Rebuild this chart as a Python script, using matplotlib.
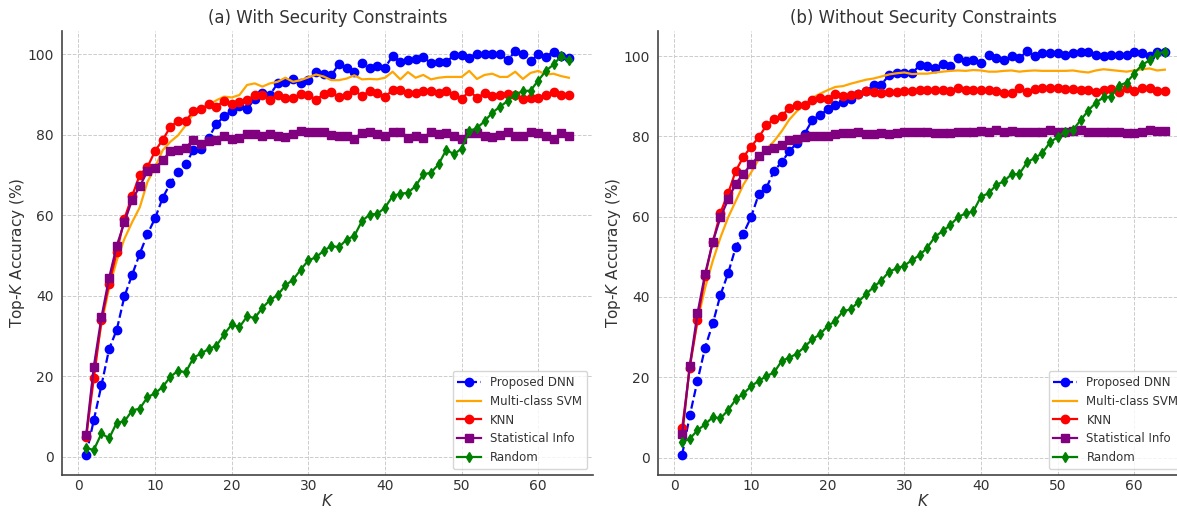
import numpy as np
import matplotlib
matplotlib.use("Agg")
import matplotlib.pyplot as plt

K = np.arange(1, 65)

# (a) with security constraints
dnn_a = [0.5, 9.1, 17.8, 26.8, 31.6, 39.9, 45.2, 50.5, 55.3, 59.3, 64.4, 68.0, 70.9, 72.7, 76.3, 76.6,
         79.3, 82.7, 84.6, 86.0, 87.1, 86.4, 89.0, 90.5, 90.0, 92.8, 93.2, 93.9, 92.8, 93.7, 95.6, 95.2,
         94.8, 97.6, 96.7, 95.7, 97.8, 96.5, 97.2, 96.7, 99.6, 98.1, 98.5, 98.9, 99.4, 97.8, 98.1, 98.1,
         99.8, 99.8, 99.2, 100.2, 100.0, 100.2, 100.2, 98.5, 100.8, 100.2, 98.3, 100.0, 99.4, 100.7, 99.6, 99.2]
svm_a = [4.0, 22.0, 33.0, 42.0, 48.8, 54.2, 58.3, 62.0, 68.3, 72.0, 76.2, 78.3, 79.9, 82.4, 85.3, 86.1,
         87.4, 88.6, 89.5, 89.3, 89.9, 92.4, 92.8, 92.0, 92.8, 93.2, 94.2, 93.2, 93.6, 94.3, 95.0, 94.5,
         93.6, 93.6, 94.0, 94.8, 93.8, 93.9, 93.8, 94.2, 95.7, 93.8, 95.6, 94.2, 94.9, 93.8, 94.2, 94.4,
         94.4, 94.4, 95.9, 93.9, 94.9, 95.2, 94.4, 94.4, 95.7, 93.9, 95.4, 95.9, 95.0, 95.2, 94.6, 94.2]
knn_a = [5.0, 19.5, 33.9, 43.0, 50.9, 59.2, 64.8, 70.1, 72.0, 76.0, 78.8, 82.0, 83.5, 83.5, 85.9, 86.4,
         87.6, 87.0, 88.5, 87.6, 88.2, 88.6, 89.9, 90.0, 88.6, 90.0, 89.2, 89.2, 90.1, 90.0, 88.7, 90.1,
         90.6, 89.5, 90.0, 91.1, 89.6, 91.0, 90.5, 89.5, 91.1, 91.1, 90.3, 90.3, 90.9, 90.9, 90.3, 91.0,
         90.0, 88.8, 91.0, 89.2, 90.3, 89.6, 89.8, 90.2, 89.8, 89.0, 89.2, 89.2, 89.8, 90.7, 89.9, 89.8]
stat_a = [5.4, 22.4, 34.7, 44.5, 52.5, 58.3, 63.9, 67.2, 71.0, 71.8, 73.7, 76.0, 76.3, 76.8, 78.8, 77.8,
          78.4, 78.8, 79.8, 78.9, 79.3, 80.1, 80.2, 79.8, 80.1, 79.8, 79.5, 80.3, 80.9, 80.8, 80.8, 80.8,
          80.0, 79.8, 79.6, 79.1, 80.5, 80.7, 80.1, 79.8, 80.7, 80.7, 79.3, 79.8, 79.3, 80.7, 80.1, 80.5,
          79.6, 79.1, 80.5, 80.5, 79.8, 79.4, 79.9, 80.7, 79.6, 79.8, 80.7, 80.5, 79.6, 79.1, 80.5, 79.8]
rand_a = [2.2, 1.7, 5.8, 4.6, 8.5, 8.8, 11.5, 12.0, 14.8, 15.8, 17.4, 19.9, 21.4, 21.0, 24.6, 25.7,
          26.8, 27.6, 30.4, 32.9, 32.2, 34.9, 34.5, 37.0, 39.0, 40.2, 42.6, 44.0, 46.5, 48.8, 49.6, 51.2,
          52.4, 52.1, 54.0, 54.9, 58.6, 60.2, 60.4, 61.9, 64.8, 65.4, 65.6, 67.3, 70.2, 70.6, 72.7, 76.3,
          75.2, 76.6, 80.9, 81.7, 83.4, 85.5, 87.0, 88.4, 90.0, 90.9, 91.0, 93.5, 95.9, 97.5, 99.6, 98.5]

# (b) without security constraints
dnn_b = [0.7, 10.5, 19.1, 27.4, 33.4, 40.5, 45.9, 52.4, 55.8, 59.9, 65.6, 67.2, 71.4, 73.6, 76.3, 78.4,
         80.7, 84.1, 85.3, 86.7, 87.8, 88.6, 89.4, 90.5, 91.3, 92.7, 92.9, 95.2, 95.7, 95.8, 95.7, 97.7,
         97.5, 96.9, 97.9, 97.5, 99.6, 98.8, 98.9, 98.3, 100.2, 99.6, 98.9, 100.0, 99.4, 101.2, 100.0, 100.7,
         100.7, 100.8, 100.2, 100.7, 101.0, 101.0, 100.2, 100.0, 100.2, 100.2, 100.2, 101.0, 100.7, 100.0, 101.1, 101.1]
svm_b = [4.5, 23.2, 34.0, 42.3, 49.0, 54.8, 59.8, 63.9, 68.0, 71.0, 74.3, 76.8, 78.8, 81.3, 84.2, 86.3,
         87.8, 89.6, 90.6, 91.5, 92.3, 92.5, 93.1, 93.6, 94.1, 94.4, 94.9, 95.4, 95.7, 95.9, 95.5, 95.6,
         95.6, 95.9, 96.1, 96.3, 96.4, 96.3, 96.5, 96.4, 96.1, 96.1, 96.3, 96.4, 96.1, 96.3, 96.4, 96.3,
         96.3, 96.3, 96.3, 96.4, 96.1, 95.9, 96.4, 96.7, 96.5, 96.3, 96.1, 96.4, 96.7, 96.9, 96.4, 96.6]
knn_b = [7.3, 22.4, 34.2, 45.2, 53.7, 61.0, 65.8, 71.4, 74.9, 77.4, 79.8, 82.7, 84.4, 85.1, 87.1, 87.8,
         87.8, 89.0, 89.5, 89.2, 90.5, 90.1, 90.3, 90.6, 91.3, 91.0, 90.9, 91.0, 91.0, 91.2, 91.3, 91.6,
         91.6, 91.5, 91.6, 91.2, 92.1, 91.5, 91.6, 91.5, 91.5, 91.3, 90.9, 90.9, 92.0, 91.1, 91.7, 92.0,
         92.0, 92.0, 91.7, 91.7, 91.6, 91.5, 91.1, 91.6, 91.9, 91.1, 92.1, 91.3, 92.1, 92.0, 91.2, 91.3]
stat_b = [5.9, 22.9, 35.9, 45.8, 53.7, 59.8, 64.3, 68.2, 70.7, 73.0, 75.1, 76.6, 77.0, 77.8, 79.0, 79.3,
          79.9, 80.2, 80.2, 80.2, 80.5, 80.9, 80.9, 81.2, 80.7, 80.7, 80.9, 80.7, 80.9, 81.0, 81.0, 81.0,
          81.0, 80.8, 80.8, 80.8, 81.0, 81.2, 81.2, 81.4, 81.2, 81.6, 81.0, 81.4, 81.1, 81.1, 81.2, 81.1,
          81.6, 81.0, 81.1, 81.4, 81.6, 81.0, 81.1, 81.1, 81.1, 81.1, 80.8, 80.8, 81.2, 81.6, 81.4, 81.4]
rand_b = [3.8, 4.7, 6.8, 8.3, 10.1, 9.8, 11.8, 14.5, 15.9, 17.8, 19.1, 20.3, 21.2, 24.1, 24.9, 25.9,
          27.6, 29.5, 30.7, 32.8, 34.0, 36.5, 36.9, 38.8, 40.7, 42.5, 44.1, 46.3, 47.1, 47.8, 49.2, 50.4,
          52.3, 55.0, 56.4, 57.9, 59.9, 60.8, 61.3, 65.0, 65.8, 67.9, 68.8, 70.6, 70.6, 73.5, 74.6, 75.8,
          78.5, 79.8, 81.2, 81.6, 84.0, 86.4, 88.4, 89.7, 89.9, 92.6, 93.4, 95.6, 97.8, 98.9, 100.6, 101.1]

titles = ["(a) With Security Constraints", "(b) Without Security Constraints"]
panels = [(dnn_a, svm_a, knn_a, stat_a, rand_a), (dnn_b, svm_b, knn_b, stat_b, rand_b)]

txt = "#333333"
plt.rcParams["text.color"] = txt
plt.rcParams["axes.labelcolor"] = txt
plt.rcParams["xtick.color"] = txt
plt.rcParams["ytick.color"] = txt

fig = plt.figure(figsize=(11.77, 5.12), dpi=100)
W, H = 1177, 512
positions = [[62 / W, 37 / H, 531 / W, 444 / H], [658 / W, 37 / H, 531 / W, 444 / H]]

for pos, title, (dnn, svm, knn, stat, rnd) in zip(positions, titles, panels):
    ax = fig.add_axes(pos)
    ax.plot(K, dnn, "--o", color="blue", lw=1.6, ms=6, label="Proposed DNN")
    ax.plot(K, svm, "-", color="orange", lw=1.6, label="Multi-class SVM")
    ax.plot(K, knn, "-o", color="red", lw=1.6, ms=6, label="KNN")
    ax.plot(K, stat, "-s", color="purple", lw=1.6, ms=5.5, label="Statistical Info")
    ax.plot(K, rnd, "-d", color="green", lw=1.6, ms=5.5, label="Random")
    ax.set_title(title, fontsize=12, color=txt)
    ax.set_xlabel("$K$", fontsize=11, labelpad=0)
    ax.set_ylabel("Top-$K$ Accuracy (%)", fontsize=11, labelpad=0)
    ax.grid(True, linestyle="--", color="#cccccc", linewidth=0.7)
    ax.tick_params(length=0, labelsize=10)
    ax.tick_params(axis="x", pad=3)
    ax.tick_params(axis="y", pad=6)
    for s in ["top", "right"]:
        ax.spines[s].set_visible(False)
    for s in ["left", "bottom"]:
        ax.spines[s].set_color("#444444")
        ax.spines[s].set_linewidth(1.2)
    leg = ax.legend(loc="lower right", fontsize=8.5, framealpha=0.8, edgecolor="#cccccc")

fig.savefig("out.png", dpi=100)
